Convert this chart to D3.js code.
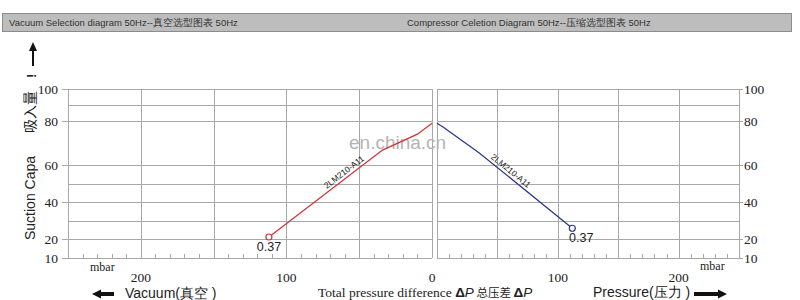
<!DOCTYPE html>
<html>
<head>
<meta charset="utf-8">
<script src="https://cdn.jsdelivr.net/npm/d3@7"></script>
<style>
  body { margin: 0; background: #fff; }
  svg { display: block; }
</style>
</head>
<body>
<svg id="chart" width="800" height="300"></svg>
<script>
// capacity grid + labels (same on both sides)
const capGrid = [10, 20, 30, 40, 50, 60, 80, 90, 100];
const capTicks = [10, 20, 40, 60, 80, 100];
const mbarGrid = [0, 50, 100, 150, 200, 250];
const mbarTicks = [0, 100, 200];

// 2LM210-A11 vacuum curve (left) and pressure curve (right)
const vacMbar = [112, 34, 10, 0];
const vacCap = [21.3, 66.8, 74, 79];
const presMbar = [0, 5, 35, 112];
const presCap = [79, 77.3, 65.5, 26];
const curveName = "2LM210-A11";
const endLabel = "0.37";
const labelMbar = 58;

const svg = d3.select("#chart");
const gridCol = "#a8a8a8";

// the printed grid is slightly stretched above 60
var y = d3.scaleLinear().domain([10, 60, 80, 100]).range([258, 165, 121, 89]);
var xL = d3.scaleLinear().domain([0, 250]).range([432, 68]);
var xR = d3.scaleLinear().domain([0, 250]).range([437, 739]);

// title bar
svg.append("rect").attr("x", 2.5).attr("y", 13.5).attr("width", 789).attr("height", 18)
  .attr("fill", "#bdbdbd").attr("stroke", "#8c8c8c");
svg.append("text").attr("x", 9).attr("y", 26).attr("font-family", "Liberation Sans, Arial")
  .attr("font-size", 9.5).attr("fill", "#333").text("Vacuum Selection diagram 50Hz--真空选型图表  50Hz");
svg.append("text").attr("x", 407).attr("y", 26).attr("font-family", "Liberation Sans, Arial")
  .attr("font-size", 9.5).attr("fill", "#333").text("Compressor Celetion Diagram 50Hz--压缩选型图表 50Hz");

function panel(x, side) {
  var g = svg.append("g");
  var x0 = x.range()[0], x1 = x.range()[1];
  var lo = Math.min(x0, x1), hi = Math.max(x0, x1);
  // horizontal grid
  g.selectAll("line.h").data(capGrid).enter().append("line")
    .attr("x1", function (d) { return capTicks.includes(d) && side == "L" ? lo - 6 : lo; })
    .attr("x2", function (d) { return capTicks.includes(d) && side == "R" ? hi + 4 : hi; })
    .attr("y1", function (d) { return Math.round(y(d)) + 0.5; })
    .attr("y2", function (d) { return Math.round(y(d)) + 0.5; })
    .attr("stroke", gridCol);
  // vertical grid
  g.selectAll("line.v").data(mbarGrid).enter().append("line")
    .attr("x1", function (d) { return Math.round(x(d)) + 0.5; })
    .attr("x2", function (d) { return Math.round(x(d)) + 0.5; })
    .attr("y1", y(100)).attr("y2", y(10))
    .attr("stroke", gridCol);
  // minor ticks every 10 mbar
  g.selectAll("line.m").data(d3.range(10, 250, 10).filter(function (d) { return d % 50; }))
    .enter().append("line")
    .attr("x1", function (d) { return Math.round(x(d)) + 0.5; })
    .attr("x2", function (d) { return Math.round(x(d)) + 0.5; })
    .attr("y1", y(10) - 4).attr("y2", y(10))
    .attr("stroke", gridCol);
  // x labels (the shared 0 is printed once, under the left panel)
  g.selectAll("text.x").data(mbarTicks.filter(function (d) { return side == "L" || d > 0; }))
    .enter().append("text")
    .attr("x", function (d) { return x(d); }).attr("y", 282)
    .attr("text-anchor", "middle").attr("font-family", "Liberation Serif, Times New Roman")
    .attr("font-size", 13.5).attr("fill", "#222").text(function (d) { return d; });
  // y labels
  g.selectAll("text.y").data(capTicks).enter().append("text")
    .attr("x", side == "L" ? 58 : 744)
    .attr("y", function (d) { return y(d) + 4.5; })
    .attr("text-anchor", side == "L" ? "end" : "start")
    .attr("font-family", "Liberation Serif, Times New Roman")
    .attr("font-size", 13.5).attr("fill", "#222").text(function (d) { return d; });
  g.append("text").attr("x", side == "L" ? 90 : 700).attr("y", side == "L" ? 271 : 270)
    .attr("font-family", "Liberation Serif, Times New Roman").attr("font-size", 12)
    .attr("fill", "#222").text("mbar");
}
panel(xL, "L");
panel(xR, "R");

// watermark
svg.append("text").attr("x", 349).attr("y", 149).attr("font-family", "Liberation Sans, Arial")
  .attr("font-size", 19).attr("fill", "#b4b4b4").text("en.china.cn");

function curve(x, mbar, cap, color) {
  var pts = mbar.map(function (m, i) { return [x(m), y(cap[i])]; });
  svg.append("path").attr("d", d3.line()(pts)).attr("fill", "none")
    .attr("stroke", color).attr("stroke-width", 1.3);
  // end marker at the largest mbar
  var iEnd = mbar.indexOf(d3.max(mbar));
  svg.append("circle").attr("cx", pts[iEnd][0]).attr("cy", pts[iEnd][1]).attr("r", 3)
    .attr("fill", "#fff").attr("stroke", color).attr("stroke-width", 1.2);
  svg.append("text").attr("x", pts[iEnd][0] + (x === xL ? 0 : 9)).attr("y", pts[iEnd][1] + 14)
    .attr("text-anchor", "middle")
    .attr("font-family", "Liberation Sans, Arial").attr("font-size", 12.5).attr("fill", "#222")
    .text(endLabel);
  // curve name along the main segment
  var order = d3.range(mbar.length).sort(function (a, b) { return mbar[a] - mbar[b]; });
  var ms = order.map(function (i) { return mbar[i]; }), cs = order.map(function (i) { return cap[i]; });
  var k = d3.bisectLeft(ms, labelMbar);
  var t = (labelMbar - ms[k - 1]) / (ms[k] - ms[k - 1]);
  var ax = x(ms[k - 1]), ay = y(cs[k - 1]), bx = x(ms[k]), by = y(cs[k]);
  var px = ax + t * (bx - ax), py = ay + t * (by - ay);
  var ang = Math.atan2(by - ay, bx - ax) * 180 / Math.PI;
  if (ang > 90) ang -= 180;
  if (ang < -90) ang += 180;
  svg.append("text")
    .attr("transform", "translate(" + px + "," + py + ") rotate(" + ang + ")")
    .attr("y", -3).attr("text-anchor", "middle")
    .attr("font-family", "Liberation Sans, Arial").attr("font-size", 8.5).attr("fill", "#222")
    .text(curveName);
}
curve(xL, vacMbar, vacCap, "#d2343a");
curve(xR, presMbar, presCap, "#2b3a86");

// left axis title (rotated)
svg.append("text").attr("transform", "translate(35,240) rotate(-90)")
  .attr("font-family", "Liberation Sans, Arial").attr("font-size", 14).attr("fill", "#222")
  .text("Suction Capa");
svg.append("text").attr("transform", "translate(35,133) rotate(-90)")
  .attr("font-family", "Noto Sans CJK SC").attr("font-size", 14).attr("fill", "#222")
  .text("吸入量");
svg.append("text").attr("transform", "translate(36,78) rotate(-90)")
  .attr("font-family", "Liberation Sans, Arial").attr("font-size", 13).attr("font-weight", "bold")
  .attr("fill", "#222").text("!");
// up arrow
svg.append("line").attr("x1", 33).attr("x2", 33).attr("y1", 66).attr("y2", 50)
  .attr("stroke", "#111").attr("stroke-width", 2);
svg.append("path").attr("d", "M29,51 L33,42 L37,51 Z").attr("fill", "#111");

// bottom titles
svg.append("path").attr("d", "M92,294 L101,289.5 L101,292 L114,292 L114,296 L101,296 L101,298.5 Z")
  .attr("fill", "#111");
svg.append("text").attr("x", 125).attr("y", 298).attr("font-family", "Liberation Sans, Arial")
  .attr("font-size", 14).attr("fill", "#222").text("Vacuum(真空 )");

var tp = svg.append("text").attr("x", 318).attr("y", 297)
  .attr("font-family", "Liberation Serif, Times New Roman").attr("font-size", 13.5).attr("fill", "#222");
tp.append("tspan").text("Total pressure difference  ");
tp.append("tspan").attr("font-family", "Liberation Sans, Arial").attr("font-weight", "bold").text("Δ");
tp.append("tspan").attr("font-family", "Liberation Sans, Arial").attr("font-style", "italic").text("P");
tp.append("tspan").attr("font-family", "Noto Sans CJK SC").attr("font-size", 11.5).text(" 总压差 ");
tp.append("tspan").attr("font-family", "Liberation Sans, Arial").attr("font-weight", "bold").text("Δ");
tp.append("tspan").attr("font-family", "Liberation Sans, Arial").attr("font-style", "italic").text("P");

svg.append("text").attr("x", 593).attr("y", 297).attr("font-family", "Liberation Sans, Arial")
  .attr("font-size", 14).attr("fill", "#222").text("Pressure(压力 )");
svg.append("path").attr("d", "M727,294 L718,289.5 L718,292 L694,292 L694,296 L718,296 L718,298.5 Z")
  .attr("fill", "#111");
</script>
</body>
</html>
